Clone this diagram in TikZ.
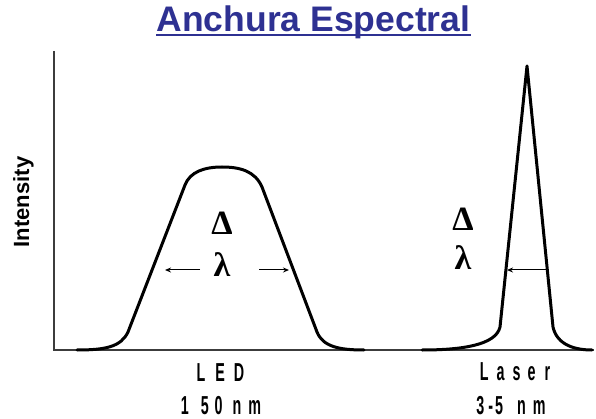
\documentclass[tikz,border=0pt]{standalone}
\usepackage{fontspec}
\setmainfont{Liberation Sans}
\newfontfamily\narrowfont[FakeStretch=0.55]{Liberation Sans}
\newfontfamily\greekfont{Liberation Serif}
\usetikzlibrary{arrows.meta}
\definecolor{titleblue}{RGB}{46,49,146}
\definecolor{axisgray}{RGB}{60,60,60}
\tikzset{
  axisline/.style={draw=axisgray, line width=2pt},
  curve/.style={draw=black, line width=3pt, line join=round, line cap=round},
  widtharrow/.style={draw=black, line width=1pt, -{Stealth[length=6pt,width=5pt]}},
  greek/.style={inner sep=0pt, font=\greekfont\bfseries\fontsize{34}{34}\selectfont},
  tick/.style={inner sep=0pt, anchor=base, font=\narrowfont\bfseries\fontsize{26}{26}\selectfont},
}
\begin{document}
\begin{tikzpicture}[x=1pt,y=-1pt]
\useasboundingbox (0,0) rectangle (596,419);
% title
\node[inner sep=0pt, anchor=base, text=titleblue, font=\bfseries\fontsize{35.5}{36}\selectfont] (title) at (313.5,32) {Anchura Espectral};
\path (title.base west) ++(0,3.5) coordinate (ulA) (title.base east) ++(0,3.5) coordinate (ulB);
\draw[titleblue, line width=2pt] (ulA) -- (ulB);
% y label
\node[inner sep=0pt, anchor=base, rotate=90, font=\bfseries\fontsize{22}{22}\selectfont] (ylab) at (29,202) {Intensity};
% axes
\coordinate (ytop) at (54,51);
\coordinate (orig) at (54,350);
\coordinate (xend) at (594,350);
\draw[axisline, line join=miter] (ytop) -- (orig) -- (xend);
% LED curve
\coordinate (ledA) at (77,350);
\coordinate (ledB) at (128,332);
\coordinate (ledC) at (185,185);
\coordinate (ledTop) at (222,167);
\coordinate (ledD) at (262,187);
\coordinate (ledE) at (317,332);
\coordinate (ledF) at (364,350);
\draw[curve] (ledA) .. controls (105,350) and (121,347) .. (ledB) -- (ledC)
  .. controls (190,172) and (204,167) .. (ledTop)
  .. controls (240,167) and (255,171) .. (ledD) -- (ledE)
  .. controls (323,347) and (340,350) .. (ledF);
% Laser curve
\coordinate (lasA) at (422,350);
\coordinate (lasB) at (500,327);
\coordinate (lasTop) at (527,66);
\coordinate (lasC) at (553,327);
\coordinate (lasD) at (592,350);
\draw[curve] (lasA) .. controls (462,350) and (496,345) .. (lasB) -- (lasTop) -- (lasC)
  .. controls (557,345) and (575,350) .. (lasD);
% LED width label
\node[greek] (ledDelta) at (222,223) {Δ};
\node[greek] (ledLambda) at (222,265) {λ};
\coordinate (ledL1) at (200,270);
\coordinate (ledL2) at (165,270);
\coordinate (ledR1) at (259,270);
\coordinate (ledR2) at (289,270);
\draw[widtharrow] (ledL1) -- (ledL2);
\draw[widtharrow] (ledR1) -- (ledR2);
% Laser width label
\node[greek] (lasDelta) at (463,219) {Δ};
\node[greek] (lasLambda) at (463,258) {λ};
\coordinate (lasR1) at (548,270);
\coordinate (lasR2) at (507,270);
\draw[widtharrow] (lasR1) -- (lasR2);
% bottom labels
\node[tick] (ledName) at (220.5,381) {L\hspace{10pt}E\hspace{9pt}D};
\node[tick] (ledVal) at (221,414) {1\hspace{12pt}5\hspace{6pt}0\hspace{10pt}n\hspace{7pt}m};
\node[tick] (lasName) at (515,380) {L\hspace{8pt}a\hspace{8pt}s\hspace{7pt}e\hspace{9pt}r};
\node[tick] (lasVal) at (511,414) {3\hspace{4pt}-\hspace{2pt}5\hspace{14pt}n\hspace{7pt}m};
\end{tikzpicture}
\end{document}
